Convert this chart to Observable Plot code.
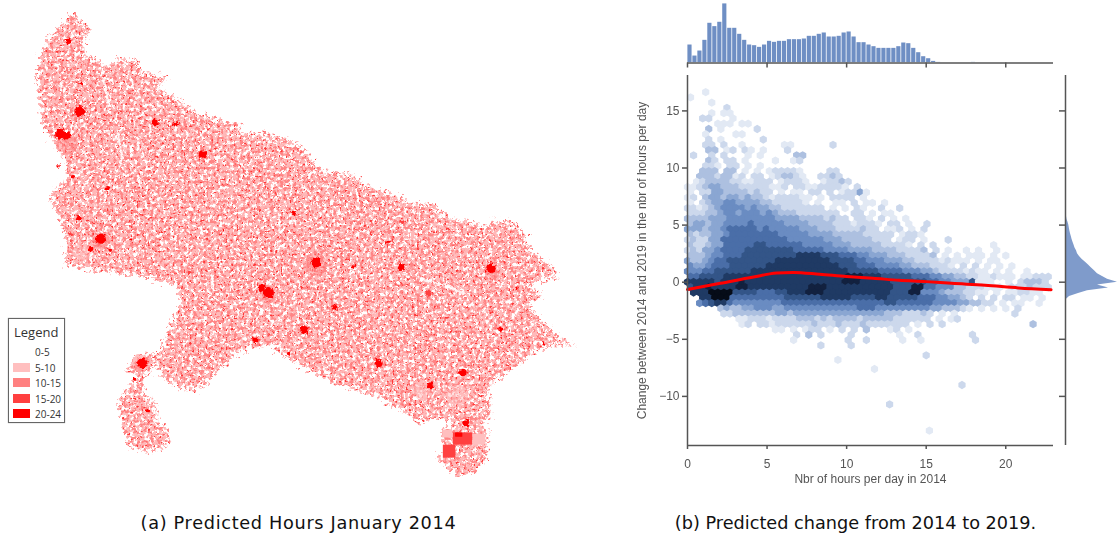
<!DOCTYPE html>
<html>
<head>
<meta charset="utf-8">
<script src="https://cdn.jsdelivr.net/npm/d3@7"></script>
<script src="https://cdn.jsdelivr.net/npm/@observablehq/plot@0.6"></script>
<style>
html,body{margin:0;padding:0;background:#fff;}
#page{position:relative;width:1117px;height:534px;overflow:hidden;background:#fff;}
#page svg{position:absolute;}
.soft{filter:blur(0.45px);}
.cap{position:absolute;top:513px;font-family:"DejaVu Sans";color:#111;text-align:center;white-space:nowrap;transform:translateX(-50%);}
#legend{position:absolute;left:8px;top:318px;width:57px;height:105px;box-sizing:border-box;border:1px solid #666;background:#fff;font-family:"Open Sans";color:#333;box-shadow:0 0 1px #999;}
#legend .t{position:absolute;left:5px;top:4px;font-size:13px;white-space:nowrap;}
#legend .s{position:absolute;left:4px;width:17px;height:9px;}
#legend .l{position:absolute;left:26px;font-size:10px;line-height:12px;white-space:nowrap;}
</style>
</head>
<body>
<div id="page">
<svg width="0" height="0" style="position:absolute"><defs>
<!-- The sub-district speckle of the source map cannot be read cell by cell, so it is rendered as a fill texture. -->
<filter id="speckle" x="-4%" y="-4%" width="108%" height="108%" color-interpolation-filters="sRGB">
<feTurbulence type="fractalNoise" baseFrequency="0.27" numOctaves="3" seed="4" result="n1"/>
<feDisplacementMap in="SourceAlpha" in2="n1" scale="20" xChannelSelector="R" yChannelSelector="G" result="shape"/>
<feColorMatrix in="n1" type="matrix" values="0 0 0 0 1  0 0 0 0 .72  0 0 0 0 .72  9 0 0 0 -3.5" result="pink"/>
<feTurbulence type="fractalNoise" baseFrequency="0.3" numOctaves="3" seed="11" result="n2"/>
<feColorMatrix in="n2" type="matrix" values="0 0 0 0 1  0 0 0 0 .52  0 0 0 0 .52  0 8 0 0 -4.1" result="mid"/>
<feTurbulence type="fractalNoise" baseFrequency="0.36" numOctaves="2" seed="23" result="n3"/>
<feColorMatrix in="n3" type="matrix" values="0 0 0 0 1  0 0 0 0 .22  0 0 0 0 .22  0 0 10 0 -6.5" result="red"/>
<feMerge result="m"><feMergeNode in="pink"/><feMergeNode in="mid"/><feMergeNode in="red"/></feMerge>
<feComposite in="m" in2="shape" operator="in"/>
<feGaussianBlur stdDeviation="0.55"/>
</filter>
<filter id="rough" x="-20%" y="-20%" width="140%" height="140%">
<feTurbulence type="fractalNoise" baseFrequency="0.3" numOctaves="2" seed="7" result="n"/>
<feDisplacementMap in="SourceGraphic" in2="n" scale="5" xChannelSelector="R" yChannelSelector="G"/>
<feGaussianBlur stdDeviation="0.4"/>
</filter>
<filter id="softedge"><feGaussianBlur stdDeviation="0.5"/></filter>
</defs></svg>
<div class="cap" style="left:298.5px;font-size:17.7px;letter-spacing:.68px">(a) Predicted Hours January 2014</div>
<div class="cap" style="left:855.5px;font-size:17.7px">(b) Predicted change from 2014 to 2019.</div>
<div id="legend"><div class="t">Legend</div></div>
</div>
<script>
// ---------- map (a): longitude / latitude ----------
const outlineLon = [77.51,77.64,77.78,77.72,77.65,77.68,77.89,77.99,78.13,78.40,78.47,78.82,78.68,78.93,79.24,79.46,79.83,79.83,80.21,80.63,80.99,81.32,81.61,81.88,82.24,82.57,82.65,83.07,83.26,83.33,83.63,83.76,83.86,84.10,84.24,84.04,83.86,84.04,83.82,84.00,84.32,84.51,84.32,84.04,83.76,83.63,83.35,83.26,83.33,83.17,83.28,83.26,83.07,82.85,82.71,82.58,82.71,82.61,82.68,82.85,82.68,82.29,82.22,81.88,81.78,81.22,80.67,80.22,79.83,79.28,79.00,78.76,78.68,78.49,78.49,78.68,78.68,78.83,78.86,78.63,78.31,78.21,78.13,78.28,78.44,78.24,78.49,78.72,78.89,79.03,78.93,78.44,77.89,77.40,77.44,77.33,77.22,77.24,77.43,77.40,77.22,77.10,77.03,77.01,77.13,77.38];
const outlineLat = [30.32,30.18,30.11,30.06,29.94,29.74,29.67,29.56,29.69,29.67,29.50,29.42,29.28,29.14,28.94,28.86,28.76,28.65,28.65,28.51,28.11,28.10,27.93,27.83,27.68,27.65,27.49,27.42,27.33,27.44,27.42,27.28,27.03,26.85,26.64,26.65,26.54,26.36,26.29,26.06,25.78,25.74,25.71,25.68,25.50,25.36,25.22,25.04,24.71,24.64,24.50,24.15,23.93,23.90,24.01,24.14,24.29,24.39,24.56,24.63,24.69,24.63,24.74,24.90,24.99,25.15,25.43,25.71,25.64,25.11,25.11,25.26,25.46,25.25,25.04,24.88,24.63,24.53,24.35,24.22,24.29,24.53,24.90,25.11,25.25,25.39,25.57,25.60,26.06,26.33,26.54,26.68,26.75,26.82,27.10,27.49,27.69,27.86,28.00,28.32,28.56,28.79,29.21,29.50,29.94,30.19];
// [lon, lat, weight, hours class]
const cities = [
[77.44,29.94,1.8,"20-24"],[77.60,28.96,3,"20-24"],[77.33,28.65,3,"20-24"],[77.42,28.62,2.2,"20-24"],[78.65,28.81,2,"20-24"],[78.93,28.78,1.3,"20-24"],[79.31,28.36,2.5,"20-24"],[77.99,27.89,1.3,"20-24"],[77.58,27.47,1.4,"20-24"],[77.89,27.19,3,"20-24"],[78.31,27.17,1,"20-24"],[80.88,26.86,3,"20-24"],[82.06,26.79,2,"20-24"],[83.31,26.78,2.8,"20-24"],[82.44,26.43,2,"15-20"],[81.15,26.24,1.4,"20-24"],[80.72,25.92,2.4,"20-24"],[81.75,25.46,2.4,"20-24"],[80.22,26.44,3.2,"20-24"],[80.12,26.50,2,"20-24"],[78.47,25.46,3,"20-24"],[78.36,25.24,1,"20-24"],[78.54,24.80,1,"20-24"],[82.92,25.33,2.2,"20-24"],[82.47,25.15,1.8,"20-24"],[82.96,24.63,2,"20-24"],[80.04,25.78,1.8,"20-24"],[83.67,26.50,1,"20-24"],[83.44,25.94,1.4,"20-24"],[84.04,25.74,1,"20-24"],[81.88,27.14,1,"20-24"],[82.08,27.42,1.2,"15-20"],[80.57,27.54,1,"20-24"],[77.75,27.05,1.6,"20-24"],[78.02,27.02,1.2,"20-24"],[77.30,28.20,1,"20-24"],[79.60,27.30,1,"20-24"],[80.50,25.60,1,"20-24"],[81.40,26.80,1,"20-24"],[77.62,29.35,1,"20-24"],[77.50,28.05,1,"20-24"],[79.12,26.72,1,"15-20"],[77.48,27.25,1.2,"15-20"]
];
const halos = [[80.88,26.84,6.5,"10-15"],[80.22,26.42,5.5,"10-15"],[77.42,28.50,6,"10-15"],[77.89,27.16,5,"10-15"],[83.33,26.72,4,"10-15"],[78.44,25.46,5,"10-15"],[77.65,27.00,5,"5-10"],[82.85,25.02,6,"5-10"],[82.35,25.08,5,"5-10"]];
// [lon1, lon2, lat1, lat2, hours class]
const districts = [[82.79,83.06,24.49,24.32,"15-20"],[82.65,82.82,24.32,24.14,"15-20"],[82.82,82.92,24.49,24.43,"20-24"],[83.06,83.24,24.47,24.32,"5-10"],[82.64,82.78,24.53,24.42,"5-10"]];
const rivers = [[[78.13,28.65],[78.19,28.32]],[[77.93,29.42],[77.99,29.11]],[[82.33,26.64],[82.68,26.54],[82.93,26.43]]];
const legendLabels = ["0-5","5-10","10-15","15-20","20-24"];
const legendColors = ["#ffffff","#ffbfbf","#ff8080","#ff4040","#ff0000"];

// ---------- panel (b) ----------
// density class of each hexagon, row by row from the top ('.' empty, 1 palest ... 9 darkest blue, 0 near black)
const hexRows = [
"...1","1","....1","......2","....1.11","..22...1",".....111.1 1","...3.1.... .2","...1....11","...2.1.... ..2",
"...22.2..1 ......11.. ....2","...33.12.2 1.1...2",".2..2.2... 1.1.....33","...32.22.1 ....1..12","...221.22. 1.1",
"..333.33.1 .1.122221. ...22","..33323312 .22.123321 ..2232",".123333221 1222.12221 ..12232",
"1123443332 2222112.22 1122221.2","1.22443333 2322.1.11. 22.2.12241","12.3443443 4332122221 1.1.2222.1",
"1.23445544 4433222221 .1..11.2.1 1.1","2212345555 4544332222 222.1.1.21 ..2..2","2223345545 5545433322 22222..22. 1.11",
"3333444555 5555544443 3332322.22 1.2.1.1","3443445555 6555554444 3333222122 21.22.1..2","4443445666 6656555554 4433322223 22.112.1.2",
"3233445666 6666655555 4444333332 2222.1221","2322446666 6666666555 5554443333 3222.122.1 ...2",
"3223446666 6776666665 5555444333 3322221.2. 2......... 1","2324456666 7777777766 6665555444 4333322223 .2.1..1.1. .1",
"3334556667 7777777788 8877766655 4443332222 3.1.1.111. 1.1","4334566777 7777788888 8888777766 5554443322 2212111.1. 11",
"5445666777 7778888888 8888877766 6555544333 2221.2.2.1 .1.1","5556677777 7888888888 8888888777 7766665554 4322221211 .1.1..1",
"6677778888 8888888888 8888889998 8877777666 5544332211 2111.11222","8888878889 8888888888 8888889998 8888777777 6655444711 1..1.23332",
"7889888899 8888888888 9998888888 8888777996 6555332221 11.2223222",".888000077 7766677888 9998888888 8888777995 5543332211 .1.112211",
"..88000666 6666667777 7788888777 7887777766 6554432.2. 2.22.11.1","..56788655 5555556666 6666666666 6667766666 6555544332 2.1.11..1",
".....34334 4555445555 5555555566 6555555555 4433321.1. 1.1.2","......2233 3333344344 4444444444 4443332223 2.1.1..... ....2",
"........11 2221222233 3232333323 3333222222 .1.12",".........1 2.22122222 2322232223 2222222.1. 2.2....... .......3",
".......... ....11.1.1 22.1.2.2.3 ...12.1",".......... ........2. 3.2....2.. .....1..2. .......2",".......... .......1.. ......2..2 .....1..1. .......2",".......... .......... ..2....2"
];
const hexTopChange = 16.65, hexRowStep = 0.462, hexColStep = 0.381;
const hexOutliers = [[9.45,-6.8,1],[11.75,-7.6,1],[15,-6.4,2],[17.25,-9,2],[12.7,-10.7,2],[15.2,-13,1]];
const hexLevels = [0,1,2,3,4,5,6,7,8,9];
const hexColors = ["#060c18","#e2e9f4","#ccd8ec","#adc0e0","#8aa6d2","#6a8cc2","#4a6ea8","#335588","#1f3a64","#12213f"];
const trendHours = [0,2.06,4.15,5.6,6.65,8.3,10,11.65,13.3,15,16.6,18.7,20.8,22.85];
const trendChange = [-0.64,-0.1,0.46,0.8,0.86,0.7,0.5,0.35,0.17,0.05,-0.1,-0.27,-0.5,-0.66];
const hoursTicks = [0,5,10,15,20];
const changeTicks = [15,10,5,0,-5,-10];
const hoursBinWidth = 0.3125;
const hoursCounts = [55,22,37,69,120,110,123,178,105,105,87,69,55,53,48,55,66,63,66,66,71,71,71,73,81,81,87,91,79,79,81,91,94,79,62,62,55,50,45,45,45,45,50,61,59,45,32,20,14,6,3,1,1,1,1,1,1,3,1,1,1,1,1,1,1,1,1,1,1,1,1,1,1,1];
const changeBins = [6,5.75,5.5,5.25,5,4.75,4.5,4.25,4,3.75,3.5,3.25,3,2.75,2.5,2.25,2,1.75,1.5,1.25,1,0.75,0.5,0.25,0,-0.25,-0.5,-0.75,-1,-1.25,-1.5];
const changeCounts = [0.5,1,1.5,2.5,3.3,3.8,4.3,5,5.8,6.5,7.5,8.5,9.5,11,12,14,16.5,20,23,26,29,32,37,42,52,32,43,22,13,4,1];

const page = document.getElementById("page");
function place(el,left,top,cls){el.style.left=left+"px";el.style.top=top+"px";if(cls)el.classList.add(cls);page.appendChild(el);}

// legend
legendLabels.forEach((t,i)=>{
  const y = 27+i*15.6;
  const s=document.createElement("div");s.className="s";s.style.top=(y+1)+"px";s.style.background=legendColors[i];
  const l=document.createElement("div");l.className="l";l.style.top=y+"px";l.textContent=t;
  document.getElementById("legend").append(s,l);
});

// map
const cityRows = cities.map(([lon,lat,weight,band])=>({lon,lat,weight,band}));
const haloRows = halos.map(([lon,lat,weight,band])=>({lon,lat,weight,band}));
const distRows = districts.map(([a,b,c,d,band])=>({a,b,c,d,band}));
const map = Plot.plot({
  width:620,height:490,margin:0,
  x:{domain:[76.5,85.11],axis:null},
  y:{domain:[23.69,30.5],axis:null},
  r:{type:"linear",domain:[0,3],range:[0,5.2]},
  color:{domain:legendLabels,range:legendColors},
  style:{background:"transparent"},
  marks:[
    Plot.line(outlineLon.map((d,i)=>[d,outlineLat[i]]),{x:"0",y:"1",fill:"#ffb0b0",stroke:"none"}),
    Plot.dot(haloRows,{x:"lon",y:"lat",r:"weight",fill:"band",fillOpacity:0.5}),
    ...rivers.map(r=>Plot.line(r,{x:"0",y:"1",stroke:"#fff",strokeWidth:2.4,strokeOpacity:0.85})),
    Plot.rect(distRows,{x1:"a",x2:"b",y1:"c",y2:"d",fill:"band"}),
    Plot.dot(cityRows,{x:"lon",y:"lat",r:"weight",fill:"band"})
  ]
});
const mapGroups = [...map.children].filter(n=>n.tagName.toLowerCase()==="g");
const filterFor = {line:"url(#rough)",dot:"url(#rough)",rect:"url(#softedge)"};
mapGroups.forEach((g,i)=>{
  const kind = g.getAttribute("aria-label");
  g.style.filter = i===0 ? "url(#speckle)" : (filterFor[kind]||"none");
});
place(map,0,0);

// hexagon cells
const hexCells=[];
hexRows.forEach((row,j)=>{
  const s=row.replace(/ /g,"");
  for(let i=0;i<s.length;i++){ if(s[i]!=="."){ hexCells.push({hours:(i+(j%2?0.5:0))*hexColStep,change:hexTopChange-j*hexRowStep,level:+s[i]}); } }
});
hexOutliers.forEach(([hours,change,level])=>hexCells.push({hours,change,level}));

const axisColor="#555";
const main = Plot.plot({
  width:445,height:430,marginLeft:67,marginRight:12,marginTop:15,marginBottom:45,
  x:{domain:[0,23]},
  y:{domain:[-14.3,18.1]},
  color:{domain:hexLevels,range:hexColors,type:"ordinal"},
  style:{background:"transparent",fontFamily:"'Liberation Sans'",color:axisColor,overflow:"visible"},
  marks:[
    Plot.dot(hexCells,{x:"hours",y:"change",fill:"level",symbol:"hexagon",r:3.6,stroke:"none"}),
    Plot.line(trendHours.map((d,i)=>[d,trendChange[i]]),{x:"0",y:"1",stroke:"#ff0000",strokeWidth:3,curve:"monotone-x"}),
    Plot.ruleY([-14.3],{stroke:axisColor,strokeWidth:1.5}),
    Plot.ruleX([0],{stroke:axisColor,strokeWidth:1.5}),
    Plot.axisX({ticks:hoursTicks,tickSize:4,tickPadding:10,fontSize:12.5,stroke:axisColor,strokeWidth:1.5,label:"Nbr of hours per day in 2014",labelAnchor:"center",labelArrow:"none",labelOffset:37,tickFormat:d=>d}),
    Plot.axisY({ticks:changeTicks,tickSize:5,tickPadding:3,fontSize:12.5,stroke:axisColor,strokeWidth:1.5,label:"Change between 2014 and 2019 in the nbr of hours per day",labelAnchor:"center",labelArrow:"none",labelOffset:50})
  ]
});
main.querySelectorAll('g[aria-label$="label"] text').forEach(t=>t.setAttribute("font-size","12"));
place(main,620,60,"soft");

// top marginal
const top_ = Plot.plot({
  width:445,height:70,marginLeft:67,marginRight:12,marginTop:2,marginBottom:7.5,
  x:{domain:[0,23]},
  y:{domain:[0,181],axis:null},
  style:{background:"transparent",overflow:"visible"},
  marks:[
    Plot.rectY(hoursCounts,{x1:(d,i)=>i*hoursBinWidth,x2:(d,i)=>(i+1)*hoursBinWidth,y:d=>d,fill:"#6f8fc4",inset:0.4}),
    Plot.ruleY([0],{stroke:axisColor,strokeWidth:1.5}),
    Plot.axisX({ticks:hoursTicks,tickSize:5,tickFormat:()=>"",label:null,stroke:axisColor,strokeWidth:1.5})
  ]
});
place(top_,620,0,"soft");

// right marginal
const right_ = Plot.plot({
  width:57,height:430,marginLeft:5,marginRight:0,marginTop:15,marginBottom:45,
  x:{domain:[0,52],axis:null},
  y:{domain:[-14.3,18.1],axis:null},
  style:{background:"transparent",overflow:"visible"},
  marks:[
    Plot.areaX(changeCounts,{x:d=>d,y:(d,i)=>changeBins[i],fill:"#7f9bcb"}),
    Plot.ruleX([0],{stroke:axisColor,strokeWidth:1.5}),
    Plot.axisY({ticks:changeTicks,tickSize:6,tickFormat:()=>"",label:null,stroke:axisColor,strokeWidth:1.5})
  ]
});
place(right_,1060,60,"soft");
</script>
</body>
</html>
